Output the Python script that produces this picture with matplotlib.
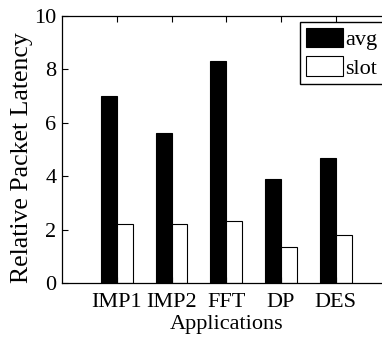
import matplotlib
matplotlib.use("Agg")
import matplotlib.pyplot as plt
import numpy as np

# values
apps = ["IMP1", "IMP2", "FFT", "DP", "DES"]
avg = [7.0, 5.62, 8.33, 3.9, 4.68]
slot = [2.22, 2.22, 2.33, 1.33, 1.78]

plt.rcParams['font.family'] = ['Liberation Serif', 'DejaVu Serif']
plt.rcParams['font.size'] = 16

fig = plt.figure(figsize=(3.82, 3.39), dpi=100)
ax = fig.add_axes([62/382, 56/339, 328.5/382, 267/339])

x = np.arange(1, len(apps) + 1)
w = 0.29
ax.bar(x - w/2, avg, w, color='black', edgecolor='black', linewidth=0.8, label='avg')
ax.bar(x + w/2, slot, w, color='white', edgecolor='black', linewidth=0.8, label='slot')

ax.set_xlim(0, 6)
ax.set_ylim(0, 10)
ax.set_xticks(x)
ax.set_xticklabels(apps)
ax.set_yticks(np.arange(0, 11, 2))
ax.tick_params(direction='in', top=True, right=True, length=4, width=0.8, pad=4)
ax.tick_params(axis='x', pad=7)
ax.set_xlabel("Applications", labelpad=2)
ax.set_ylabel("Relative Packet Latency", fontsize=18.5)
ax.yaxis.set_label_coords(-0.088, 0.468)
for s in ax.spines.values():
    s.set_linewidth(0.9)

leg = ax.legend(loc='upper left', bbox_to_anchor=(300/382, 1 - 22/339),
                bbox_transform=fig.transFigure, borderaxespad=0,
                fancybox=False, edgecolor='black', framealpha=1,
                handlelength=1.67, handleheight=0.95, handletextpad=0.1,
                borderpad=0.25, labelspacing=0.3)
leg.get_frame().set_linewidth(1.0)

fig.savefig("out.png", dpi=100)
